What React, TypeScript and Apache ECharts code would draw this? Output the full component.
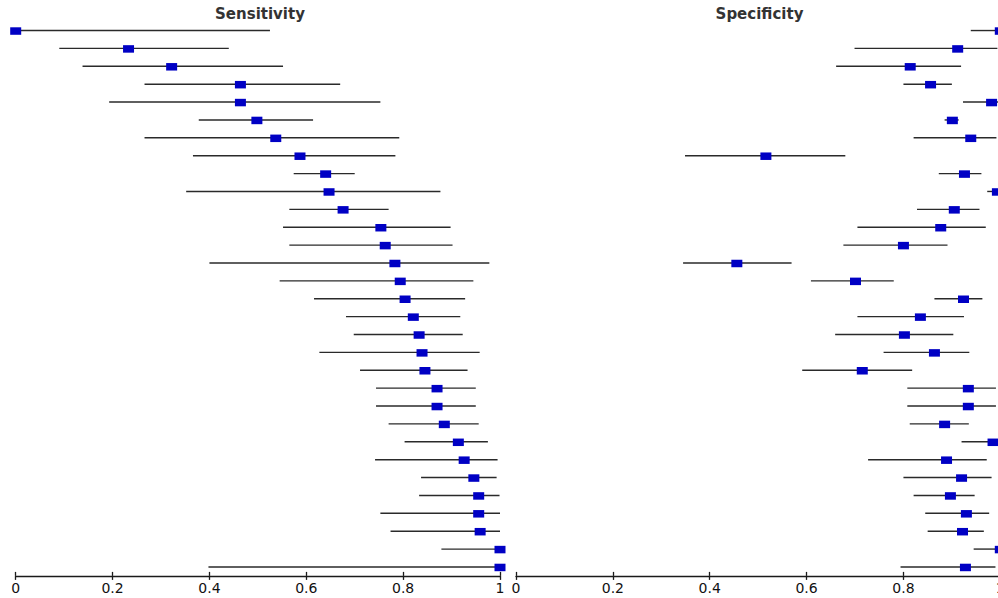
import React, { useEffect, useRef } from "react";
import * as echarts from "echarts";

const studies: string[] = [
  "1", "2", "3", "4", "5", "6", "7", "8", "9", "10",
  "11", "12", "13", "14", "15", "16", "17", "18", "19", "20",
  "21", "22", "23", "24", "25", "26", "27", "28", "29", "30", "31",
];

const sensEst: number[] = [
  0.0, 0.233, 0.322, 0.464, 0.464, 0.498, 0.537, 0.587, 0.64, 0.647,
  0.676, 0.754, 0.763, 0.783, 0.794, 0.804, 0.821, 0.833, 0.839, 0.845,
  0.87, 0.87, 0.885, 0.914, 0.926, 0.946, 0.956, 0.956, 0.959, 1.0, 1.0,
];
const sensLo: number[] = [
  0.0, 0.09, 0.138, 0.266, 0.193, 0.378, 0.266, 0.366, 0.574, 0.352,
  0.565, 0.552, 0.565, 0.4, 0.545, 0.616, 0.682, 0.698, 0.627, 0.711,
  0.744, 0.744, 0.77, 0.803, 0.742, 0.837, 0.833, 0.753, 0.774, 0.879, 0.398,
];
const sensHi: number[] = [
  0.525, 0.44, 0.552, 0.67, 0.753, 0.614, 0.792, 0.784, 0.7, 0.877,
  0.77, 0.898, 0.902, 0.978, 0.945, 0.928, 0.918, 0.923, 0.958, 0.933,
  0.95, 0.95, 0.956, 0.975, 0.995, 0.993, 0.999, 1.0, 1.0, 1.0, 1.0,
];

const specEst: number[] = [
  1.0, 0.912, 0.814, 0.856, 0.982, 0.901, 0.939, 0.516, 0.926, 0.994,
  0.905, 0.877, 0.8, 0.456, 0.701, 0.924, 0.835, 0.802, 0.864, 0.715,
  0.934, 0.934, 0.885, 0.985, 0.889, 0.92, 0.897, 0.93, 0.922, 1.0, 0.928,
];
const specLo: number[] = [
  0.939, 0.699, 0.661, 0.8, 0.923, 0.885, 0.821, 0.349, 0.873, 0.973,
  0.828, 0.705, 0.676, 0.345, 0.609, 0.864, 0.705, 0.659, 0.759, 0.591,
  0.808, 0.808, 0.813, 0.92, 0.727, 0.8, 0.821, 0.845, 0.85, 0.945, 0.794,
];
const specHi: number[] = [
  1.0, 0.994, 0.919, 0.9, 1.0, 0.914, 0.992, 0.68, 0.961, 1.0,
  0.957, 0.97, 0.891, 0.569, 0.78, 0.963, 0.925, 0.903, 0.936, 0.818,
  0.991, 0.991, 0.935, 1.0, 0.972, 0.982, 0.947, 0.977, 0.966, 1.0, 0.99,
];

const tickValues: number[] = [0, 0.2, 0.4, 0.6, 0.8, 1];
const panelTitles: string[] = ["Sensitivity", "Specificity"];

const FONT = "DejaVu Sans, Verdana, sans-serif";

export default function App() {
  const ref = useRef<HTMLDivElement>(null);

  useEffect(() => {
    if (!ref.current) return;
    const chart = echarts.init(ref.current, undefined, { renderer: "svg" });

    const grids = [
      { left: 15.7, top: 21.6, width: 484.3, height: 554.3, containLabel: false, outerBoundsMode: "none" },
      { left: 516, top: 21.6, width: 484.3, height: 554.3, containLabel: false, outerBoundsMode: "none" },
    ];

    const xAxes: any[] = [];
    const yAxes: any[] = [];
    const series: any[] = [];
    const panels = [
      { est: sensEst, lo: sensLo, hi: sensHi },
      { est: specEst, lo: specLo, hi: specHi },
    ];

    panels.forEach((p, g) => {
      xAxes.push({
        type: "value",
        gridIndex: g,
        position: "bottom",
        min: tickValues[0],
        max: tickValues[tickValues.length - 1],
        interval: 0.2,
        splitLine: { show: false },
        axisLine: { show: true, lineStyle: { color: "#1a1a1a", width: 1.3 } },
        axisTick: { show: true, inside: false, length: 4, lineStyle: { color: "#1a1a1a", width: 1.3 } },
        axisLabel: {
          show: true,
          margin: 5,
          color: "#111",
          fontSize: 14,
          fontFamily: FONT,
          formatter: (v: number) => String(Math.round(v * 10) / 10),
        },
      });
      xAxes.push({
        type: "value",
        gridIndex: g,
        position: "bottom",
        min: tickValues[0],
        max: tickValues[tickValues.length - 1],
        interval: 0.2,
        splitLine: { show: false },
        axisLine: { show: false },
        axisTick: { show: true, inside: true, length: 4, lineStyle: { color: "#1a1a1a", width: 1.3 } },
        axisLabel: { show: false },
      });
      yAxes.push({
        type: "category",
        gridIndex: g,
        data: studies,
        inverse: true,
        boundaryGap: true,
        axisLine: { show: false },
        axisTick: { show: false },
        axisLabel: { show: false },
        splitLine: { show: false },
      });

      series.push({
        type: "custom",
        xAxisIndex: g * 2,
        yAxisIndex: g,
        clip: false,
        encode: { x: [0, 1], y: 2 },
        data: studies.map((_, i) => [p.lo[i], p.hi[i], i]),
        renderItem: (params: any, api: any) => {
          const a = api.coord([api.value(0), api.value(2)]);
          const b = api.coord([api.value(1), api.value(2)]);
          return {
            type: "line",
            shape: { x1: a[0], y1: a[1], x2: b[0], y2: b[1] },
            style: { stroke: "#2a2a2a", lineWidth: 1.4 },
          };
        },
        z: 2,
      });
      series.push({
        type: "scatter",
        xAxisIndex: g * 2,
        yAxisIndex: g,
        clip: false,
        symbol: "rect",
        symbolSize: [11, 7.5],
        symbolOffset: [0, 0.5],
        itemStyle: { color: "#0000C4", opacity: 1 },
        emphasis: { disabled: true },
        data: studies.map((_, i) => [p.est[i], i]),
        z: 3,
      });
    });

    chart.setOption({
      animation: false,
      backgroundColor: "#ffffff",
      grid: grids,
      xAxis: xAxes,
      yAxis: yAxes,
      series,
      graphic: [
        {
          type: "text",
          x: 260,
          y: 13.5,
          style: {
            text: panelTitles[0],
            align: "center",
            verticalAlign: "middle",
            fontFamily: FONT,
            fontWeight: "bold",
            fontSize: 15,
            fill: "#333333",
          },
        },
        {
          type: "text",
          x: 759.5,
          y: 13.5,
          style: {
            text: panelTitles[1],
            align: "center",
            verticalAlign: "middle",
            fontFamily: FONT,
            fontWeight: "bold",
            fontSize: 15,
            fill: "#333333",
          },
        },
      ],
    });

    return () => chart.dispose();
  }, []);

  return (
    <div
      ref={ref}
      style={{ position: "fixed", left: 0, top: 0, width: 998, height: 598, background: "#fff" }}
    />
  );
}
